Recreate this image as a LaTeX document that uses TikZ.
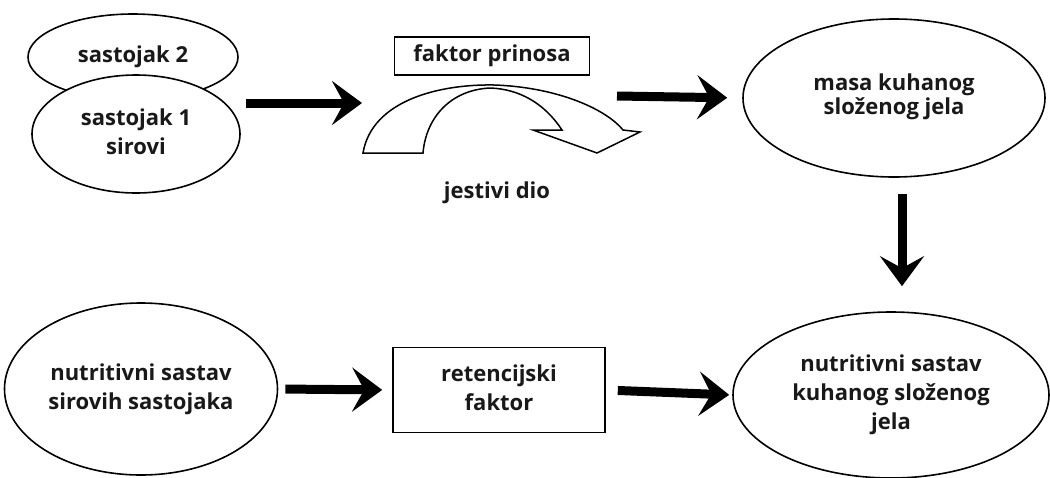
\documentclass[tikz,border=0pt]{standalone}
\usepackage{fontspec}
\setmainfont{Open Sans}
\usetikzlibrary{shapes.geometric,arrows.meta}
\newcommand{\upby}[2]{\raisebox{#1}{\begin{tabular}{@{}c@{}}#2\end{tabular}}}
\begin{document}
\begin{tikzpicture}[x=1pt,y=-1pt,
    every node/.style={font=\fontsize{22}{29}\selectfont\bfseries,text=black!90,align=center},
    blob/.style={draw,ellipse,line width=1.6pt,fill=white,inner sep=0pt},
    box/.style={draw,rectangle,line width=1.6pt,fill=white,inner sep=0pt},
    bigarrow/.style={line width=9pt,-{Stealth[length=30pt,width=44pt,inset=12pt]}}]
  \useasboundingbox (0,0) rectangle (1050,477);
  % top row
  \node[blob,minimum width=210pt,minimum height=86pt] (s2) at (133,57) {\upby{4pt}{sastojak 2}};
  \node[blob,minimum width=208pt,minimum height=118pt] (s1) at (136,134) {\upby{6pt}{sastojak 1\\sirovi}};
  \node[box,minimum width=195pt,minimum height=38pt] (prinos) at (492,56) {\upby{4pt}{faktor prinosa}};
  \node[blob,minimum width=302pt,minimum height=158pt,font=\fontsize{22}{24}\selectfont\bfseries] (masa) at (894,98)
    {\upby{2pt}{masa kuhanog\\složenog jela}};
  \node (jestivi) at (497,193) {jestivi dio};
  \coordinate (curveL) at (362,103);
  \coordinate (curveR) at (617,96);
  % curved arrow
  \draw[line width=1.5pt,fill=white] (363,153) .. controls (372,100) and (440,84) .. (494,85)
    .. controls (555,87) and (605,108) .. (623,130) -- (640,132) -- (597,153) -- (533,130) -- (562,130)
    .. controls (545,104) and (520,89) .. (490,88) .. controls (450,90) and (426,118) .. (423,153) -- cycle;
  \draw[bigarrow] (s1.east |- curveL) ++(5,0) -- (curveL);
  \draw[bigarrow,shorten >=15pt] (curveR) -- (masa.west);
  % bottom row
  \node[blob,minimum width=273pt,minimum height=172pt] (sirovi) at (141,389) {\upby{6pt}{nutritivni sastav\\sirovih sastojaka}};
  \node[box,minimum width=212pt,minimum height=85pt] (ret) at (499,390) {\upby{-2pt}{retencijski\\faktor}};
  \node[blob,minimum width=316pt,minimum height=166pt] (kuhano) at (891,395) {\upby{-2pt}{nutritivni sastav\\kuhanog složenog\\jela}};
  \draw[bigarrow,shorten <=16pt,shorten >=25pt] (masa.south -| 902,0) -- (kuhano.north -| 902,0);
  \draw[bigarrow,shorten <=7pt,shorten >=10pt] (sirovi.east) -- (ret.west);
  \draw[bigarrow,shorten <=12pt,shorten >=3pt] (ret.east) -- (kuhano.west);
\end{tikzpicture}
\end{document}
